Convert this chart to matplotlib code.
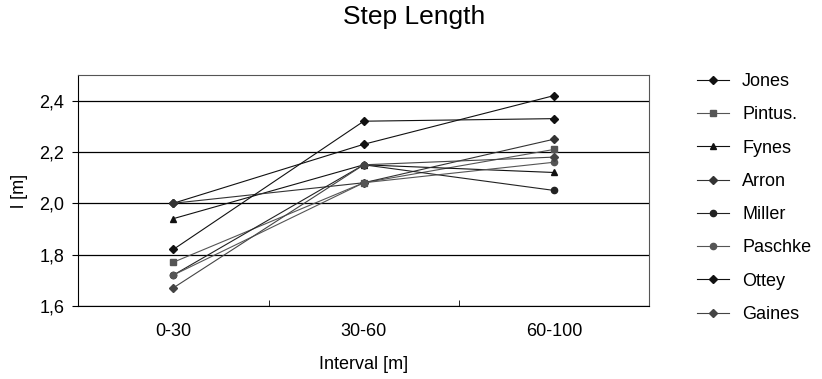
import numpy as np
import matplotlib.pyplot as plt

plt.rcParams['font.family'] = ['Liberation Sans', 'DejaVu Sans']

# data
intervals = ['0-30', '30-60', '60-100']
names = ['Jones', 'Pintus.', 'Fynes', 'Arron', 'Miller', 'Paschke', 'Ottey', 'Gaines']
jones = [2.00, 2.23, 2.42]
pintus = [1.77, 2.08, 2.21]
fynes = [1.94, 2.15, 2.12]
arron = [2.00, 2.08, 2.25]
miller = [1.72, 2.15, 2.05]
paschke = [1.72, 2.08, 2.16]
ottey = [1.82, 2.32, 2.33]
gaines = [1.67, 2.15, 2.18]
values = [jones, pintus, fynes, arron, miller, paschke, ottey, gaines]

markers = ['D', 's', '^', 'D', 'o', 'o', 'D', 'D']
colors = ['#111111', '#555555', '#111111', '#333333', '#222222', '#555555', '#111111', '#444444']
msizes = [4, 4.5, 5, 4, 4.5, 4.5, 4, 4]

fig = plt.figure(figsize=(8.22, 3.79), dpi=100)
ax = fig.add_axes([0.095, 0.193, 0.695, 0.609])

x = np.arange(len(intervals))
for name, v, m, c, ms in zip(names, values, markers, colors, msizes):
    ax.plot(x, v, marker=m, color=c, lw=0.8, ms=ms, mec=c, mfc=c, label=name)

ax.set_xlim(-0.5, 2.5)
ax.set_ylim(1.6, 2.5)
ax.set_yticks([1.6, 1.8, 2.0, 2.2, 2.4])
ax.set_yticklabels(['1,6', '1,8', '2,0', '2,2', '2,4'], fontsize=13)
ax.set_xticks(x)
ax.set_xticklabels(intervals, fontsize=13)
ax.set_xticks([0.5, 1.5], minor=True)
ax.tick_params(axis='x', which='major', length=0, pad=12)
ax.tick_params(axis='x', which='minor', length=4, direction='in')
ax.tick_params(axis='y', length=4, direction='out', pad=6)
ax.yaxis.grid(True, color='black', lw=0.9)
ax.set_axisbelow(True)
for s in ax.spines.values():
    s.set_linewidth(0.8)
ax.spines['top'].set_color('#555555')
ax.spines['right'].set_color('#555555')

ax.set_xlabel('Interval [m]', fontsize=13, labelpad=12)
ax.set_ylabel('l [m]', fontsize=13, labelpad=8)
fig.text(0.504, 0.955, 'Step Length', fontsize=19, ha='center', va='center')

fig.legend(loc='upper left', bbox_to_anchor=(0.828, 0.85), frameon=False,
           fontsize=13, handlelength=1.8, handletextpad=0.7, labelspacing=0.9)

fig.savefig('out.png', dpi=100)
